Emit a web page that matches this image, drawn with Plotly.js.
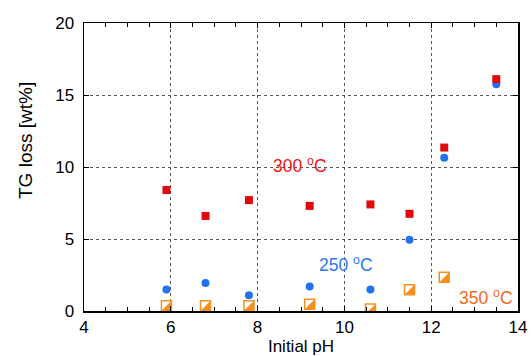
<!DOCTYPE html>
<html>
<head>
<meta charset="utf-8">
<script src="https://cdn.plot.ly/plotly-3.0.1.min.js"></script>
<style>html,body{margin:0;padding:0;background:#fff;}#chart{width:532px;height:356px;}</style>
</head>
<body>
<div id="chart"></div>
<script>
const pH = [5.9, 6.8, 7.8, 9.2, 10.6, 11.5, 12.3, 13.5];
const loss300 = [8.4, 6.6, 7.7, 7.3, 7.4, 6.75, 11.35, 16.1];
const loss250 = [1.5, 1.95, 1.1, 1.7, 1.5, 4.95, 10.65, 15.75];
const pH350 = [5.9, 6.8, 7.8, 9.2, 10.6, 11.5, 12.3];
const loss350 = [0.37, 0.37, 0.37, 0.47, 0.14, 1.47, 2.35];
const xTicks = [4, 6, 8, 10, 12, 14];
const yTicks = [0, 5, 10, 15, 20];

const red = '#e00a0a', blue = '#2272f0', orange = '#f7901e';
const fam = 'Liberation Sans, Arial, sans-serif';
const font = {family: fam, size: 17, color: '#000'};

const traces = [
  {x: pH, y: loss250, mode: 'markers', type: 'scatter', hoverinfo: 'skip',
   marker: {symbol: 'circle', size: 8, color: blue, line: {width: 0}}},
  {x: pH, y: loss300, mode: 'markers', type: 'scatter', hoverinfo: 'skip',
   marker: {symbol: 'square', size: 8, color: red, line: {width: 0}}},
  {x: pH350, y: loss350, mode: 'markers', type: 'scatter', hoverinfo: 'skip',
   marker: {symbol: 'square', size: 10, color: '#fff', line: {width: 1.5, color: orange}}},
  {x: pH350, y: loss350, mode: 'markers', type: 'scatter', hoverinfo: 'skip',
   marker: {symbol: 'triangle-se', size: 9, color: orange, line: {width: 0}}}
];

const axisCommon = {
  showline: true, linecolor: '#000', linewidth: 1.5, mirror: 'ticks',
  ticks: 'inside', tickcolor: '#000', ticklen: 5, tickwidth: 1,
  showgrid: true, gridcolor: '#555', griddash: 'dot', gridwidth: 1,
  zeroline: false, tickfont: font
};

const layout = {
  width: 532, height: 356,
  margin: {l: 84, r: 14, t: 23, b: 45},
  paper_bgcolor: '#fff', plot_bgcolor: '#fff',
  showlegend: false,
  font: font,
  xaxis: Object.assign({}, axisCommon, {
    range: [4, 14], tickmode: 'array', tickvals: xTicks, ticktext: xTicks.map(String),
    minor: {dtick: 0.5, ticks: 'inside', ticklen: 4, tickcolor: '#000', showgrid: false},
    title: {text: 'Initial pH', font: {family: fam, size: 17, color: '#000'}, standoff: 6}
  }),
  yaxis: Object.assign({}, axisCommon, {
    range: [0, 20], tickmode: 'array', tickvals: yTicks, ticktext: yTicks.map(String),
    ticklabelstandoff: 5
  }),
  annotations: [
    {x: 25, y: 141, xref: 'paper', yref: 'paper', text: 'TG loss [wt%]', textangle: -90,
     showarrow: false, xanchor: 'center', yanchor: 'middle',
     font: {family: fam, size: 19, color: '#000'}},
    {x: 8.98, y: 10.15, xref: 'x', yref: 'y', text: '300 <sup>o</sup>C', showarrow: false,
     font: {family: fam, size: 17.5, color: '#f01414'}},
    {x: 10.03, y: 3.25, xref: 'x', yref: 'y', text: '250 <sup>o</sup>C', showarrow: false,
     font: {family: fam, size: 17.5, color: '#2a78f5'}},
    {x: 13.27, y: 1.0, xref: 'x', yref: 'y', text: '350 <sup>o</sup>C', showarrow: false,
     font: {family: fam, size: 17.5, color: '#f26a1e'}}
  ]
};
// paper-position for the y title (pixels converted to paper fraction)
layout.annotations[0].x = (25 - 84) / (532 - 84 - 14);
layout.annotations[0].y = (356 - 45 - 141) / (356 - 45 - 23);

Plotly.newPlot('chart', traces, layout, {staticPlot: true}).then(function (gd) {
  // reshape the half-filled marker triangle so it fills the lower-right half of the square
  const layers = gd.querySelectorAll('.scatterlayer .trace');
  const tri = layers[3];
  if (tri) {
    tri.querySelectorAll('path.point').forEach(function (p) {
      p.setAttribute('d', 'M5,-5L5,5L-5,5Z');
    });
  }
});
</script>
</body>
</html>
